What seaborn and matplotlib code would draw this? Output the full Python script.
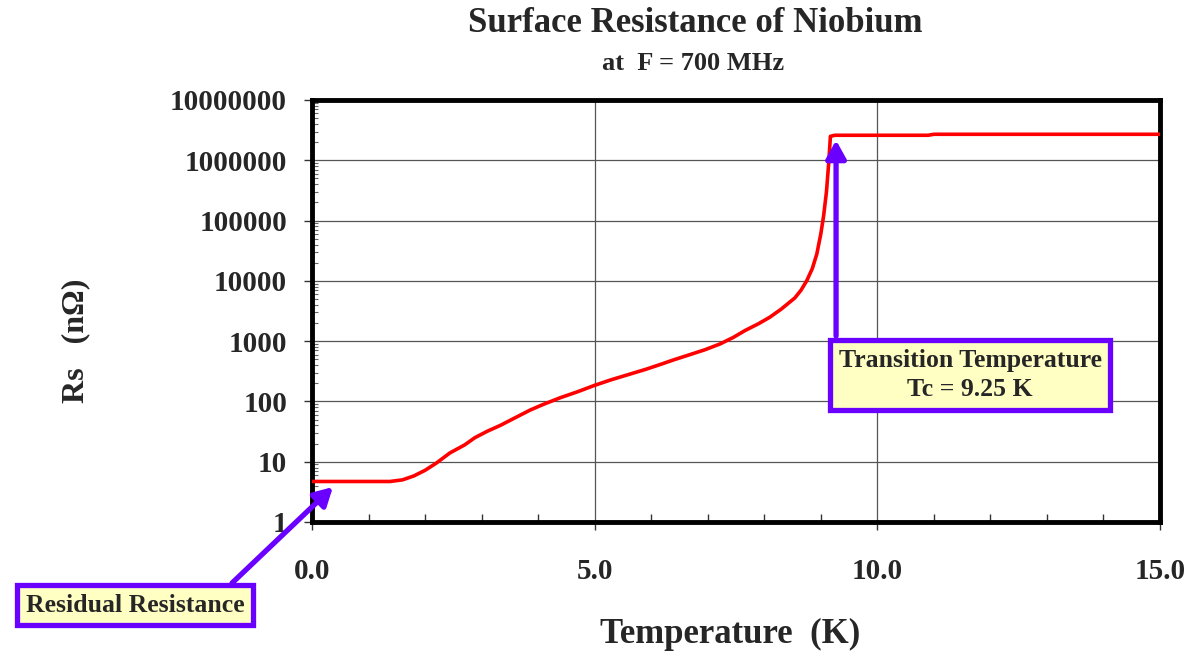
import numpy as np
import pandas as pd
import matplotlib
matplotlib.use("Agg")
import matplotlib.pyplot as plt
import seaborn as sns
from matplotlib.ticker import FixedLocator, NullFormatter

sns.set_theme(style="white")
plt.rcParams['font.family'] = ['Liberation Serif', 'DejaVu Serif']

# Data
temperature_K = [0.0, 0.5, 1.0, 1.38, 1.6, 1.8, 2.0, 2.2, 2.44, 2.7, 2.88, 3.1, 3.33, 3.6, 3.86,
                 4.1, 4.39, 4.7, 5.0, 5.3, 5.63, 5.9, 6.16, 6.4, 6.69, 6.95, 7.22, 7.45, 7.66,
                 7.9, 8.1, 8.3, 8.54, 8.65, 8.75, 8.85, 8.93, 9.0, 9.05, 9.1, 9.14, 9.17,
                 9.25, 10.0, 10.9, 11.0, 12.0, 13.0, 14.0, 15.0]
rs_nohm = [4.7, 4.7, 4.7, 4.7, 5.0, 5.8, 7.2, 9.5, 14, 19, 25, 32, 40, 54, 72,
           90, 115, 145, 185, 230, 285, 340, 410, 490, 600, 720, 900, 1150, 1500,
           1950, 2500, 3400, 5200, 7000, 10000, 16000, 28000, 60000, 120000, 300000, 900000, 2.5e6,
           2.6e6, 2.6e6, 2.6e6, 2.7e6, 2.7e6, 2.7e6, 2.7e6, 2.7e6]
y_ticks = [1, 10, 100, 1000, 10000, 100000, 1000000, 10000000]
y_ticklabels = ["1", "10", "100", "1000", "10000", "100000", "1000000", "10000000"]
x_ticks = [0.0, 5.0, 10.0, 15.0]
x_ticklabels = ["0.0", "5.0", "10.0", "15.0"]

title = "Surface Resistance of Niobium"
subtitle = "at  F = 700 MHz"
x_label = "Temperature  (K)"
y_label = "Rs   (n\u03a9)"
residual_label = "Residual Resistance"
transition_label = "Transition Temperature\nTc = 9.25 K"

df = pd.DataFrame({"T": temperature_K, "Rs": rs_nohm})

W, H = 1187, 651
fig = plt.figure(figsize=(W / 100, H / 100), dpi=100)
fig.patch.set_facecolor("white")
ax = fig.add_axes([312 / W, 1 - 522 / H, (1160 - 312) / W, (522 - 100) / H])
ax.set_facecolor("white")

sns.lineplot(data=df, x="T", y="Rs", ax=ax, color="#ff0000", linewidth=2.6, zorder=3)
ax.set_yscale("log")
ax.set_xlim(0, 15)
ax.set_ylim(1, 1e7)

ax.xaxis.set_major_locator(FixedLocator(x_ticks))
ax.set_xticklabels(x_ticklabels)
ax.xaxis.set_minor_locator(FixedLocator([v for v in range(1, 15) if v % 5 != 0]))
ax.yaxis.set_major_locator(FixedLocator(y_ticks))
ax.set_yticklabels(y_ticklabels)
minors = [m * 10 ** e for e in range(0, 7) for m in range(2, 10)]
ax.yaxis.set_minor_locator(FixedLocator(minors))
ax.yaxis.set_minor_formatter(NullFormatter())

ax.grid(True, which="major", color="#555555", linewidth=0.9)
ax.tick_params(axis="both", which="major", direction="out", length=6, width=1, color="#333333",
               bottom=True, left=True)
ax.tick_params(axis="y", which="major", labelsize=21, pad=12)
ax.tick_params(axis="x", which="major", labelsize=21, pad=20)
ax.tick_params(axis="x", which="minor", direction="in", length=6, width=1, color="#333333", bottom=True)
ax.tick_params(axis="y", which="minor", direction="in", length=4, width=0.8, color="#666666", left=True)
for lab in ax.get_xticklabels() + ax.get_yticklabels():
    lab.set_fontweight("bold")

for s in ax.spines.values():
    s.set_visible(True)
    s.set_color("black")
    s.set_linewidth(3.5)

ax.set_xlabel(x_label, fontsize=25, fontweight="bold")
ax.set_ylabel(y_label, fontsize=23, fontweight="bold")
ax.xaxis.set_label_coords(0.493, -0.228)
ax.yaxis.set_label_coords(-0.262, 0.43)

fig.text(695 / W, 1 - 24 / H, title, ha="center", va="center", fontsize=25, fontweight="bold")
fig.text(693 / W, 1 - 64 / H, subtitle, ha="center", va="center", fontsize=19, fontweight="bold")

purple = "#6a00ff"
box = dict(boxstyle="square,pad=0.35", facecolor="#ffffc4", edgecolor=purple, linewidth=3.8)
arrow = dict(arrowstyle="-|>,head_length=0.9,head_width=0.5", color=purple, lw=3.8,
             shrinkA=0, shrinkB=0)

# Arrows (drawn under the boxes)
ax.annotate("", xy=(0.37, 3.8), xytext=(-1.415, 0.097), xycoords="data", textcoords="data",
            arrowprops=arrow, annotation_clip=False, zorder=4)
ax.annotate("", xy=(9.27, 2.15e6), xytext=(9.27, 1216), xycoords="data", textcoords="data",
            arrowprops=arrow, annotation_clip=False, zorder=4)

# Boxes
ax.text(135 / W, 1 - 605 / H, residual_label, transform=fig.transFigure,
        ha="center", va="center", fontsize=18.5, fontweight="bold", bbox=box, zorder=5)
ax.text(970 / W, 1 - 375 / H, transition_label, transform=fig.transFigure,
        ha="center", va="center", fontsize=18.5, fontweight="bold", bbox=box,
        linespacing=1.3, multialignment="center", zorder=5)

fig.savefig("out.png", dpi=100, facecolor="white")
